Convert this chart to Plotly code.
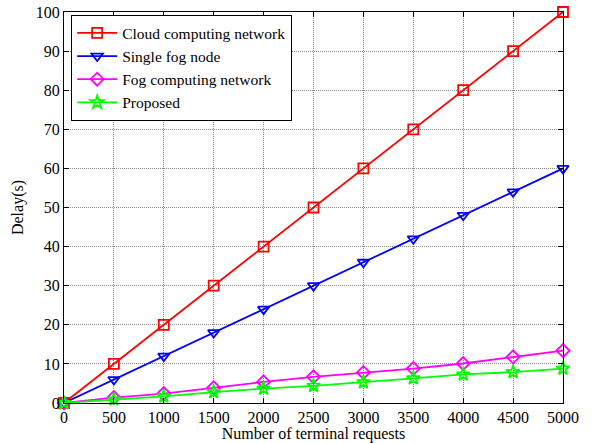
import plotly.graph_objects as go

requests = [0, 500, 1000, 1500, 2000, 2500, 3000, 3500, 4000, 4500, 5000]
cloud = [0, 10, 20, 30, 40, 50, 60, 70, 80, 90, 100]
single_fog = [0, 6, 12, 18, 24, 30, 36, 42, 48, 54, 60]
fog_network = [0, 1.4, 2.4, 3.9, 5.4, 6.7, 7.8, 8.8, 10.1, 11.8, 13.4]
proposed = [0, 0.9, 1.7, 2.8, 3.7, 4.4, 5.3, 6.3, 7.3, 7.9, 8.8]

x_ticks = [0, 500, 1000, 1500, 2000, 2500, 3000, 3500, 4000, 4500, 5000]
y_ticks = [0, 10, 20, 30, 40, 50, 60, 70, 80, 90, 100]

FONT = "'Liberation Serif', 'Times New Roman', Times, serif"

fig = go.Figure()
series = [
    ("Cloud computing network", cloud, "#ff0000", "square-open"),
    ("Single fog node", single_fog, "#0000ff", "triangle-down-open"),
    ("Fog computing network", fog_network, "#ff00ff", "diamond-open"),
    ("Proposed", proposed, "#00ff00", "star-open"),
]
for name, ys, color, sym in series:
    fig.add_trace(go.Scatter(
        x=requests, y=ys, name=name, mode="lines+markers",
        line=dict(color=color, width=1.8),
        marker=dict(symbol=sym, size=10, color=color, line=dict(color=color, width=1.8)),
        cliponaxis=False,
    ))

axis_common = dict(
    showline=True, linecolor="black", linewidth=1.2, mirror="ticks",
    ticks="inside", ticklen=5, tickcolor="black",
    showgrid=True, gridcolor="#8a8a8a", griddash="1px,1px", gridwidth=1,
    zeroline=False, automargin=False,
    tickfont=dict(family=FONT, size=16, color="black"),
    title_font=dict(family=FONT, size=16, color="black"),
)

fig.update_xaxes(range=[0, 5000], tickvals=x_ticks, title_text="Number of terminal requests",
                 title_standoff=0, ticklabelstandoff=0, **axis_common)
fig.update_yaxes(range=[0, 100], tickvals=y_ticks, title_text="Delay(s)",
                 title_standoff=8, **axis_common)

fig.update_layout(
    width=594, height=443,
    margin=dict(l=64, r=31, t=12, b=40),
    plot_bgcolor="white", paper_bgcolor="white",
    font=dict(family=FONT, size=16, color="black"),
    legend=dict(
        x=0.014, y=0.992, xanchor="left", yanchor="top",
        bgcolor="white", bordercolor="black", borderwidth=1.2,
        font=dict(family=FONT, size=15.5, color="black"),
        tracegroupgap=0, itemwidth=40,
    ),
    showlegend=True,
)

fig.write_html("out.html", config={"displayModeBar": False},
               post_script="document.body.style.margin='0';")
